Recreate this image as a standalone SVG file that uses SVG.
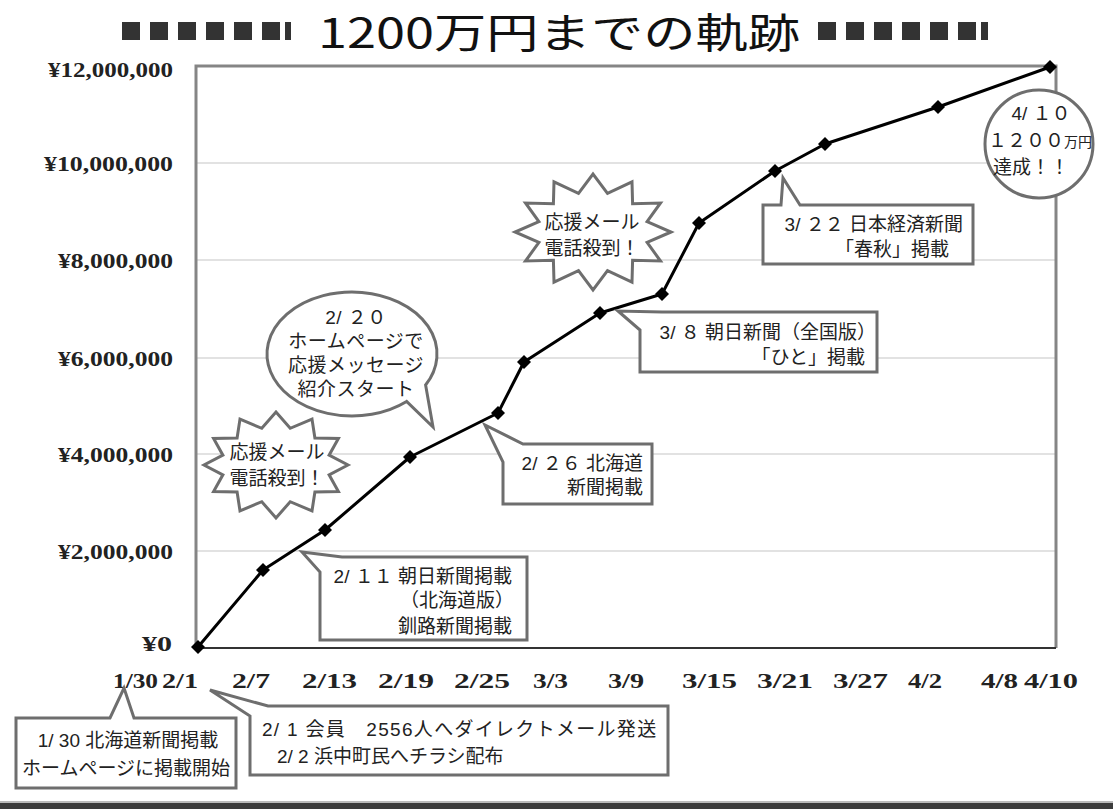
<svg xmlns="http://www.w3.org/2000/svg" width="1113" height="809" viewBox="0 0 1113 809">
<style>
.ax{font-family:"Liberation Serif",serif;font-weight:bold;font-size:20px;fill:#222}
.jp{font-family:"Liberation Sans","Noto Sans CJK JP",sans-serif;font-size:19px;fill:#222}
.co{fill:#fff;stroke:#6e6e6e;stroke-width:3;stroke-linejoin:miter}
.grid{stroke:#d9d9d9;stroke-width:1.5}
.sq{fill:#333}
</style>
<defs>
<path id="dia" d="M0,-7 L7,0 L0,7 L-7,0 Z" fill="#000"/>
</defs>
<rect width="1113" height="809" fill="#fff"/>

<g id="title">
<rect class="sq" x="122" y="22" width="18" height="18"/><rect class="sq" x="150" y="22" width="18" height="18"/><rect class="sq" x="178" y="22" width="18" height="18"/><rect class="sq" x="206" y="22" width="18" height="18"/><rect class="sq" x="234" y="22" width="18" height="18"/><rect class="sq" x="262" y="22" width="18" height="18"/><rect class="sq" x="285" y="22" width="6" height="18"/>
<text x="318" y="48" textLength="482" lengthAdjust="spacingAndGlyphs" style="font-family:'Noto Sans CJK JP',sans-serif;font-size:41px;fill:#111">1200万円までの軌跡</text>
<rect class="sq" x="818" y="22" width="18" height="18"/><rect class="sq" x="846" y="22" width="18" height="18"/><rect class="sq" x="874" y="22" width="18" height="18"/><rect class="sq" x="902" y="22" width="18" height="18"/><rect class="sq" x="930" y="22" width="18" height="18"/><rect class="sq" x="958" y="22" width="18" height="18"/><rect class="sq" x="981" y="22" width="7" height="18"/>
</g>

<g id="plot">
<line class="grid" x1="197" y1="163" x2="1055" y2="163"/>
<line class="grid" x1="197" y1="260" x2="1055" y2="260"/>
<line class="grid" x1="197" y1="358" x2="1055" y2="358"/>
<line class="grid" x1="197" y1="454" x2="1055" y2="454"/>
<line class="grid" x1="197" y1="551" x2="1055" y2="551"/>
<path d="M196,648 V66 H1056 V648" fill="none" stroke="#858585" stroke-width="3"/>
<line x1="196" y1="648" x2="1056" y2="648" stroke="#333" stroke-width="2"/>
</g>

<g id="y-axis">
<text class="ax" x="173" y="77" text-anchor="end" textLength="125" lengthAdjust="spacingAndGlyphs">¥12,000,000</text>
<text class="ax" x="173" y="171" text-anchor="end" textLength="129" lengthAdjust="spacingAndGlyphs">¥10,000,000</text>
<text class="ax" x="173" y="268" text-anchor="end" textLength="115" lengthAdjust="spacingAndGlyphs">¥8,000,000</text>
<text class="ax" x="173" y="366" text-anchor="end" textLength="115" lengthAdjust="spacingAndGlyphs">¥6,000,000</text>
<text class="ax" x="173" y="462" text-anchor="end" textLength="115" lengthAdjust="spacingAndGlyphs">¥4,000,000</text>
<text class="ax" x="173" y="559" text-anchor="end" textLength="115" lengthAdjust="spacingAndGlyphs">¥2,000,000</text>
<text class="ax" x="172" y="651" text-anchor="end" textLength="30" lengthAdjust="spacingAndGlyphs">¥0</text>
</g>

<g id="x-axis">
<text class="ax" x="113" y="688" textLength="45" lengthAdjust="spacingAndGlyphs">1/30</text>
<text class="ax" x="162" y="688" textLength="36" lengthAdjust="spacingAndGlyphs">2/1</text>
<text class="ax" x="232" y="688" textLength="38" lengthAdjust="spacingAndGlyphs">2/7</text>
<text class="ax" x="302" y="688" textLength="55" lengthAdjust="spacingAndGlyphs">2/13</text>
<text class="ax" x="378" y="688" textLength="56" lengthAdjust="spacingAndGlyphs">2/19</text>
<text class="ax" x="454" y="688" textLength="56" lengthAdjust="spacingAndGlyphs">2/25</text>
<text class="ax" x="533" y="688" textLength="35" lengthAdjust="spacingAndGlyphs">3/3</text>
<text class="ax" x="608" y="688" textLength="36" lengthAdjust="spacingAndGlyphs">3/9</text>
<text class="ax" x="682" y="688" textLength="55" lengthAdjust="spacingAndGlyphs">3/15</text>
<text class="ax" x="757" y="688" textLength="56" lengthAdjust="spacingAndGlyphs">3/21</text>
<text class="ax" x="833" y="688" textLength="55" lengthAdjust="spacingAndGlyphs">3/27</text>
<text class="ax" x="908" y="688" textLength="34" lengthAdjust="spacingAndGlyphs">4/2</text>
<text class="ax" x="981" y="688" textLength="37" lengthAdjust="spacingAndGlyphs">4/8</text>
<text class="ax" x="1024" y="688" textLength="54" lengthAdjust="spacingAndGlyphs">4/10</text>
</g>

<g id="connectors">
<polyline points="198,647 263,570 325,530 410,457 498,413 524,362 600,313 662,294 699,223 775,171 825,144 938,107 1050,67" fill="none" stroke="#000" stroke-width="3" stroke-linejoin="round"/>
<use href="#dia" x="198" y="647"/><use href="#dia" x="263" y="570"/><use href="#dia" x="325" y="530"/><use href="#dia" x="410" y="457"/><use href="#dia" x="498" y="413"/><use href="#dia" x="524" y="362"/><use href="#dia" x="600" y="313"/><use href="#dia" x="662" y="294"/><use href="#dia" x="699" y="223"/><use href="#dia" x="775" y="171"/><use href="#dia" x="825" y="144"/><use href="#dia" x="938" y="107"/><use href="#dia" x="1050" y="67"/>
</g>

<g id="burst-left">
<polygon class="co" points="348,465 329.1,474.8 338.4,491.5 314.9,491.9 312,510.9 290.2,501.7 276,518 261.8,501.7 240,510.9 237.1,491.9 213.6,491.5 222.9,474.8 204,465 222.9,455.2 213.6,438.5 237.1,438.1 240,419.1 261.8,428.3 276,412 290.2,428.3 312,419.1 314.9,438.1 338.4,438.5 329.1,455.2"/>
<text class="jp" text-anchor="middle" font-size="20"><tspan x="277" y="459">応援メール</tspan><tspan x="277" y="485">電話殺到！</tspan></text>
</g>

<g id="bubble-220">
<path class="co" d="M406.6,401.5 A85,62 0 1 1 425.6,385 L433,427 Z"/>
<text class="jp" text-anchor="middle" font-size="19" letter-spacing="0.5"><tspan x="356" y="324">2/ ２０</tspan><tspan x="356" y="348">ホームページで</tspan><tspan x="356" y="372">応援メッセージ</tspan><tspan x="356" y="396">紹介スタート</tspan></text>
</g>

<g id="burst-right">
<polygon class="co" points="671,232 647.1,242.4 660.5,261 632.6,260.3 632,282.2 607.5,270.6 593,290 578.5,270.6 554,282.2 553.4,260.3 525.5,261 538.9,242.4 515,232 538.9,221.6 525.5,203 553.4,203.7 554,181.8 578.5,193.4 593,174 607.5,193.4 632,181.8 632.6,203.7 660.5,203 647.1,221.6"/>
<text class="jp" text-anchor="middle" font-size="20"><tspan x="592" y="229">応援メール</tspan><tspan x="592" y="255">電話殺到！</tspan></text>
</g>

<g id="note-211">
<path class="co" d="M342,557 H527 V640 H320 V572 L302,552 Z"/>
<text class="jp" text-anchor="end"><tspan x="512" y="583">2/ １１ 朝日新聞掲載</tspan><tspan x="514" y="607">（北海道版）</tspan><tspan x="512" y="633">釧路新聞掲載</tspan></text>
</g>

<g id="note-226">
<path class="co" d="M523,444 H652 V504 H503 V462 L485,425 Z"/>
<text class="jp" text-anchor="end"><tspan x="643" y="470">2/ ２６ 北海道</tspan><tspan x="643" y="494">新聞掲載</tspan></text>
</g>

<g id="note-38">
<path class="co" d="M662,312 H877 V372 H640 V330 L618,311 Z"/>
<text class="jp" text-anchor="end"><tspan x="876" y="339">3/ ８ 朝日新聞（全国版）</tspan><tspan x="865" y="364">「ひと」掲載</tspan></text>
</g>

<g id="note-322">
<path class="co" d="M763,205 H781 L783,178 L800,205 H973 V264 H763 Z"/>
<text class="jp" text-anchor="end"><tspan x="963" y="231">3/ ２２ 日本経済新聞</tspan><tspan x="949" y="256">「春秋」掲載</tspan></text>
</g>

<g id="circle-410">
<circle class="co" cx="1039" cy="144" r="54"/>
<text class="jp" font-size="20"><tspan x="1041" y="120" text-anchor="middle">4/ １０</tspan><tspan x="1040" y="147" text-anchor="middle">１２００<tspan font-size="14">万円</tspan></tspan><tspan x="993" y="174">達成！！</tspan></text>
</g>

<g id="note-130">
<path class="co" d="M16,718 H110 L124,688 L134,718 H236 V788 H16 Z"/>
<text class="jp" text-anchor="middle"><tspan x="128" y="747">1/ 30 北海道新聞掲載</tspan><tspan x="126" y="775">ホームページに掲載開始</tspan></text>
</g>

<g id="note-201">
<path class="co" d="M268,706 H668 V775 H250 V716 L210,690 Z"/>
<text class="jp"><tspan x="262" y="736" letter-spacing="1.3">2/ 1 会員　2556人へダイレクトメール発送</tspan><tspan x="277" y="763" letter-spacing="0">2/ 2 浜中町民へチラシ配布</tspan></text>
</g>

<g id="footer">
<rect x="0" y="801" width="1113" height="2" fill="#bbb"/>
<rect x="0" y="803" width="1113" height="6" fill="#3c3c3c"/>
</g>
</svg>
